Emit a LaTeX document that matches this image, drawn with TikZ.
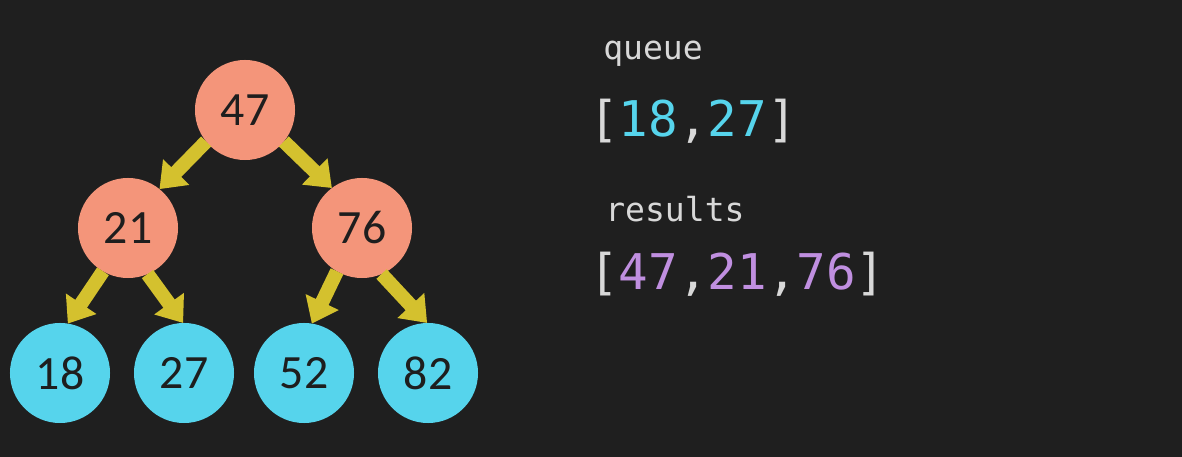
\documentclass[tikz,border=0pt]{standalone}
\usepackage{fontspec}
\setmainfont{Carlito}
\newfontfamily\codefont{DejaVu Sans Mono}
\usepackage{xcolor}
\usetikzlibrary{arrows.meta}
\definecolor{bg}{HTML}{1F1F1F}
\definecolor{salmon}{HTML}{F4957A}
\definecolor{sky}{HTML}{56D4EC}
\definecolor{mustard}{HTML}{D4C12E}
\definecolor{lilac}{HTML}{C08FE0}
\definecolor{ink}{HTML}{1E1E1E}
\definecolor{chalk}{HTML}{D8D8D8}
\tikzset{tnode/.style={circle,minimum size=2.5cm,inner sep=0pt,outer sep=0pt,text=ink,
    font=\fontsize{34}{40}\selectfont},
  parent/.style={tnode,fill=salmon},
  leaf/.style={tnode,fill=sky},
  arr/.style={-{Triangle[width=25pt,length=17pt]},line width=10pt,draw=mustard},
  label/.style={anchor=base west,inner sep=0pt,text=chalk,font=\codefont\fontsize{23.5}{28}\selectfont},
  list/.style={anchor=base west,inner sep=0pt,text=chalk,font=\codefont\fontsize{35}{42}\selectfont}}

\begin{document}
\begin{tikzpicture}[x=0.025cm,y=-0.025cm]
\fill[bg] (0,0) rectangle (1182,457);
\useasboundingbox (0,0) rectangle (1182,457);
\node[parent] (n47) at (245,110) {47};
\node[parent] (n21) at (128,228) {21};
\node[parent] (n76) at (362,228) {76};
\foreach \n/\x in {18/60,27/184,52/304,82/428}{
  \node[leaf] (n\n) at (\x,373) {\n};
}
\draw[arr] (n47.219) -- (n21.51);
\draw[arr] (n47.321) -- (n76.127);
\foreach \p/\c in {n21/n18,n76/n52}{
  \draw[arr] (\p.240) -- (\c.81);
}
\foreach \p/\c in {n21/n27,n76/n82}{
  \draw[arr] (\p.293) -- (\c.91);
}
\node[label] (qlabel) at (603,60) {queue};
\node[list] (qlist) at (589,137) {[\textcolor{sky}{18},\textcolor{sky}{27}]};
\node[label] (rlabel) at (605,222) {results};
\node[list] (rlist) at (589,290) {[\textcolor{lilac}{47},\textcolor{lilac}{21},\textcolor{lilac}{76}]};
\end{tikzpicture}
\end{document}
